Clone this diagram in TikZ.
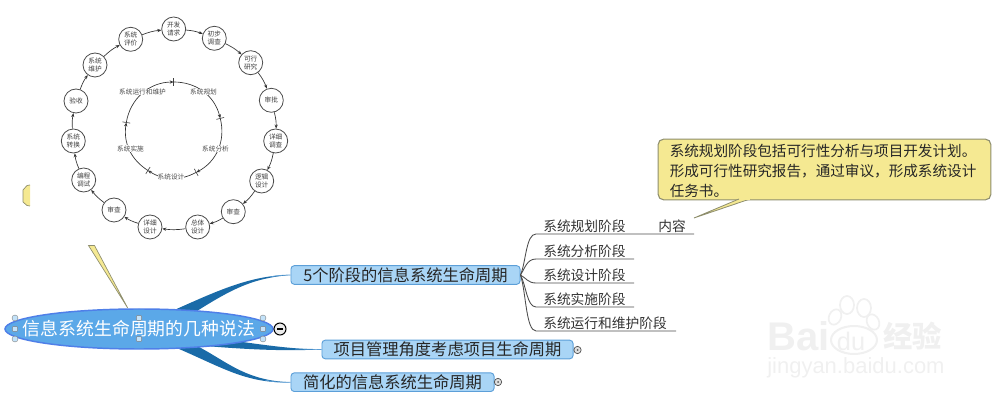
\documentclass[tikz,border=0pt]{standalone}
\usepackage{fontspec}
\setmainfont{Noto Sans CJK SC}
\newfontfamily\wmfont{Liberation Sans}
\usetikzlibrary{arrows.meta,backgrounds,shapes.geometric}
\definecolor{branchblue}{HTML}{1A6BA8}
\definecolor{topicfill}{HTML}{A9D5F6}
\definecolor{topicline}{HTML}{5C9FD8}
\definecolor{mainfill}{HTML}{5BA8E8}
\definecolor{mainline}{HTML}{4F7FE8}
\definecolor{notefill}{HTML}{F5E992}
\definecolor{noteline}{HTML}{8E8E6E}
\definecolor{wm}{HTML}{F0F0F0}
\tikzset{
  ringnode/.style={circle,draw=black!70,line width=.6pt,fill=white,minimum size=18pt,inner sep=0pt,align=center,font=\fontsize{5}{6}\selectfont,text=black!75},
  ringedge/.style={-{Stealth[length=3pt,width=2.4pt]},line width=.5pt,black!80},
  innerlabel/.style={inner sep=0pt,fill=white,font=\fontsize{5}{6}\selectfont,text=black!70},
  topic/.style={draw=topicline,line width=.7pt,fill=topicfill,rounded corners=2.5pt,inner sep=0pt,minimum height=14pt,font=\fontsize{12.2}{14}\selectfont,text=black!85},
  subtext/.style={inner sep=0pt,font=\fontsize{10.3}{12}\selectfont,text=black!80},
  subline/.style={line width=.65pt,black!70},
  handlec/.style={circle,draw=black!50,fill=topicfill!70,line width=.3pt,minimum size=4.5pt,inner sep=0pt},
  handles/.style={rectangle,rounded corners=.5pt,draw=black!50,fill=topicfill!70,line width=.3pt,minimum width=4pt,minimum height=3.5pt,inner sep=0pt},
  fold/.style={circle,draw=black!70,fill=black!12,line width=.5pt,minimum size=5.5pt,inner sep=0pt},
  wmtext/.style={inner sep=0pt,text=wm}
}
\begin{document}
\begin{tikzpicture}[x=0.75pt,y=-0.75pt]
\useasboundingbox (0,0) rectangle (1000,402);
% ---- outer ring
\node[ringnode] (o1) at (173.7,29) {开发\\请求};
\node[ringnode] (o2) at (214.3,38.3) {初步\\调查};
\node[ringnode] (o3) at (250.7,62.7) {可行\\研究};
\node[ringnode] (o4) at (271.3,100.3) {审批};
\node[ringnode] (o5) at (275.7,141) {详细\\调查};
\node[ringnode] (o6) at (261.7,181) {逻辑\\设计};
\node[ringnode] (o7) at (233.3,211.7) {审查};
\node[ringnode] (o8) at (197.7,227) {总体\\设计};
\node[ringnode] (o9) at (150,227) {详细\\设计};
\node[ringnode] (o10) at (114,210) {审查};
\node[ringnode] (o11) at (83.7,180) {编程\\调试};
\node[ringnode] (o12) at (73.3,141) {系统\\转换};
\node[ringnode] (o13) at (76,101) {验收};
\node[ringnode] (o14) at (95,65) {系统\\维护};
\node[ringnode] (o15) at (130.7,39.3) {系统\\评价};
\foreach \a/\b in {1/2,2/3,3/4,4/5,5/6,6/7,7/8,8/9,9/10,10/11,11/12,12/13,13/14,14/15,15/1}
  \draw[ringedge] (o\a) to[bend left=8] (o\b);
% ---- inner ring
\foreach \n/\ang in {a/90,b/14,c/-62,d/-122.5,e/171}{
  \coordinate (t\n) at ({173.7+48*cos(\ang)},{130-48*sin(\ang)});
  \draw[line width=.45pt,black!75] ({173.7+44*cos(\ang)},{130-44*sin(\ang)}) -- ({173.7+52*cos(\ang)},{130-52*sin(\ang)});
}
\draw[ringedge] (ta) to[bend left=38] (tb);
\draw[ringedge] (tb) to[bend left=38] (tc);
\draw[ringedge] (tc) to[bend left=30] (td);
\draw[ringedge] (td) to[bend left=33] (te);
\draw[ringedge] (te) to[bend left=40] (ta);
\node[innerlabel] (l1) at (203.5,92.3) {系统规划};
\node[innerlabel] (l2) at (215.5,149) {系统分析};
\node[innerlabel] (l3) at (171,176.5) {系统设计};
\node[innerlabel] (l4) at (130.5,148.5) {系统实施};
\node[innerlabel] (l5) at (142.5,92.3) {系统运行和维护};
% ---- cut-off note fragments
\fill[notefill] (30,185) -- (27,185.5) -- (23,190) -- (23,202) -- (27,205.5) -- (30,206) -- cycle;
\draw[noteline,line width=.5pt] (30,185) -- (27,185.5) -- (23,190) -- (23,202) -- (27,205.5) -- (30,206);
\coordinate (notetip) at (127.7,308);
\coordinate (notea) at (88.5,245.5);
\coordinate (noteb) at (94.5,245.5);
\filldraw[fill=notefill,draw=noteline,line width=.5pt] (notea) -- (notetip) -- (noteb) -- cycle;
% ---- topics
\node[topic,minimum width=171.8pt] (t5) at (405.5,275) {5个阶段的信息系统生命周期};
\node[topic,minimum width=188.3pt] (tx) at (447.5,349.5) {项目管理角度考虑项目生命周期};
\node[topic,minimum width=152.3pt] (tj) at (392.5,382.2) {简化的信息系统生命周期};
\begin{pgfonlayer}{background}
\fill[branchblue] (172,311) .. controls (215,292) and (250,275) .. (t5.west) .. controls (255,278) and (235,287) .. (197,311) -- cycle;
\fill[branchblue] (228,340) .. controls (265,345) and (290,349) .. (tx.west) .. controls (285,351) and (255,350) .. (205,346) -- cycle;
\fill[branchblue] (197,346) .. controls (225,360) and (245,381) .. (tj.west) .. controls (245,384) and (220,366) .. (172,346) -- cycle;
\draw[topicline,line width=.5pt] (270,277) .. controls (277,275.5) and (283,275) .. (t5.west);
\draw[topicline,line width=.5pt] (295,349) -- (tx.west);
\draw[topicline,line width=.5pt] (265,380) .. controls (272,382) and (280,382.3) .. (tj.west);
\end{pgfonlayer}
% ---- main ellipse on top of the branches
\node[ellipse,draw=mainline,line width=1.1pt,fill=mainfill,minimum width=201pt,minimum height=30pt,inner sep=0pt] (mainshape) at (139,329) {};
\node[inner sep=0pt,text=white,font=\fontsize{13.4}{15}\selectfont] (maintext) at (mainshape.center) {信息系统生命周期的几种说法};
\foreach \n/\x/\y in {h1/15/318,h2/15/339,h3/263/318,h4/263/339}
  \node[handlec] (\n) at (\x,\y) {};
\foreach \n/\x/\y in {s1/15/329,s2/139/318,s3/139/339,s4/263/329}
  \node[handles] (\n) at (\x,\y) {};
\node[circle,draw=black,line width=.8pt,fill=black!8,minimum size=9pt,inner sep=0pt] (minus) at (280,329) {};
\draw[line width=.9pt,black] (minus.center) ++(-2.6,0) -- ++(5.2,0);
\node[fold] (fx) at (577.5,350) {};
\node[fill=black!65,circle,inner sep=0pt,minimum size=1.5pt] (fxd) at (fx.center) {};
\node[fold] (fj) at (498,382) {};
\node[fill=black!65,circle,inner sep=0pt,minimum size=1.5pt] (fjd) at (fj.center) {};
% ---- sub topics
\node[subtext,anchor=west] (s5a) at (543,226) {系统规划阶段};
\node[subtext,anchor=west] (s5ax) at (658,226.5) {内容};
\node[subtext,anchor=west] (s5b) at (543,251.5) {系统分析阶段};
\node[subtext,anchor=west] (s5c) at (543,275) {系统设计阶段};
\node[subtext,anchor=west] (s5d) at (543,299) {系统实施阶段};
\node[subtext,anchor=west] (s5e) at (543,323) {系统运行和维护阶段};
\coordinate (ea) at (694,234);
\coordinate (eb) at (634,259);
\coordinate (ec) at (634,283);
\coordinate (ed) at (634,307);
\coordinate (ee) at (676,331);
\draw[subline] (t5.east) .. controls (526,262) and (526,234) .. (536,234) -- (ea);
\draw[subline] (t5.east) .. controls (525,268) and (527,259) .. (536,259) -- (eb);
\draw[subline] (t5.east) .. controls (526,278) and (528,283) .. (536,283) -- (ec);
\draw[subline] (t5.east) .. controls (526,285) and (527,307) .. (536,307) -- (ed);
\draw[subline] (t5.east) .. controls (526,292) and (526,331) .. (536,331) -- (ee);
% ---- callout
\coordinate (calltip) at (694,218);
\coordinate (calla) at (739,199);
\coordinate (callb) at (750,199);
\node[draw=noteline,line width=.8pt,fill=notefill,rounded corners=4pt,minimum width=249.5pt,minimum height=45.5pt,inner sep=0pt] (call) at (824.5,169.5) {};
\fill[notefill,draw=noteline,line width=.6pt] (calla) -- (calltip) -- (callb);
\fill[notefill] (739.5,198) rectangle (749.5,200.2);
\node[inner sep=0pt,anchor=west,font=\fontsize{10.95}{12}\selectfont,text=black!85] (c1) at (669.5,151) {系统规划阶段包括可行性分析与项目开发计划。};
\node[inner sep=0pt,anchor=west,font=\fontsize{10.95}{12}\selectfont,text=black!85] (c2) at (669.5,171.5) {形成可行性研究报告，通过审议，形成系统设计};
\node[inner sep=0pt,anchor=west,font=\fontsize{10.95}{12}\selectfont,text=black!85] (c3) at (669.5,191) {任务书。};
% ---- watermark
\node[wmtext,anchor=west,font=\wmfont\bfseries\fontsize{30}{32}\selectfont] (wb) at (767,336) {Bai};
\filldraw[fill=white,draw=wm,line width=1.5pt] (854,340) ellipse [x radius=23,y radius=14];
\foreach \x/\y/\rx/\ry/\r in {847/305/7/9/0,864/308/7/9/0,835/317/6/8/-25,873/322/6/8/25}
  \draw[wm,line width=1.3pt,rotate around={\r:(\x,\y)}] (\x,\y) ellipse [x radius=\rx,y radius=\ry];
\node[wmtext,font=\wmfont\fontsize{19}{20}\selectfont] (wd) at (851,341) {du};
\node[wmtext,anchor=west,font=\bfseries\fontsize{22}{24}\selectfont] (wj) at (883,336) {经验};
\node[wmtext,anchor=west,font=\wmfont\fontsize{16.5}{18}\selectfont] (wu) at (767,368) {jingyan.baidu.com};
\end{tikzpicture}
\end{document}
